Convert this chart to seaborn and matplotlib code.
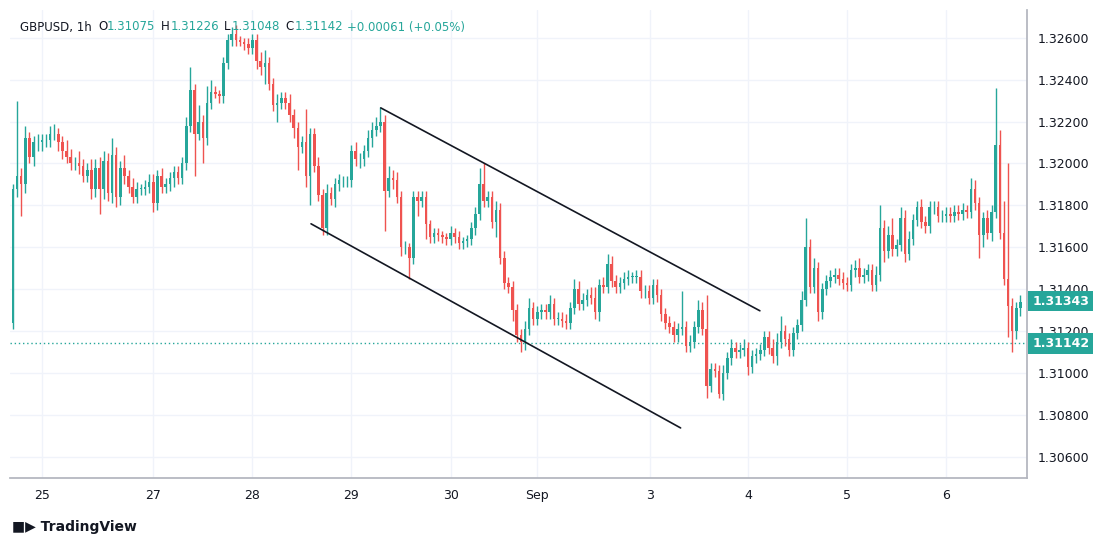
import numpy as np
import pandas as pd
import matplotlib
matplotlib.use("Agg")
import matplotlib.pyplot as plt
import seaborn as sns

BASE = 1.30
first_open = 124  # pips above 1.30000
closes = [188,194,190,212,203,210,210,211,211,214,
          214,210,206,203,200,200,199,194,197,188,
          198,188,201,186,204,184,198,194,189,184,
          188,188,189,191,181,194,189,190,193,196,
          193,200,218,235,214,220,212,229,234,233,
          232,248,259,262,259,258,257,255,259,249,
          246,248,238,228,229,231,229,223,217,208,
          210,194,214,199,185,169,186,183,190,192,
          192,192,206,202,202,206,212,216,218,220,
          187,193,192,184,160,160,155,184,182,184,
          171,165,167,166,165,164,167,165,162,163,
          164,169,176,190,182,184,172,178,155,143,
          141,130,118,115,121,131,126,129,130,129,
          133,126,126,125,124,131,140,133,135,137,
          136,129,142,141,152,144,141,143,145,146,
          146,146,139,139,136,142,137,128,124,122,
          118,121,122,113,115,122,130,121,94,102,
          101,90,100,107,112,110,111,112,103,108,
          109,111,117,112,108,115,120,116,111,119,
          123,135,160,141,150,129,140,144,146,147,
          145,143,142,149,150,146,147,149,142,147,
          169,158,166,159,161,174,157,164,173,179,
          172,170,179,179,175,175,176,175,177,176,
          178,177,188,181,166,174,167,177,209,167,
          145,132,120,131,134]
wick_up = [2,36,4,6,3,3,4,3,3,4, 5,3,3,5,4,3,6,3,3,5, 4,5,5,4,8,4,3,6,3,4,
           3,2,3,4,4,3,4,3,3,3, 3,3,4,11,3,8,3,8,6,3, 2,3,3,3,4,2,2,3,3,3,
           4,6,3,3,4,3,3,4,3,3, 3,16,3,3,4,3,4,3,3,3, 2,2,3,4,3,3,4,4,4,7,
           3,6,4,4,3,3,2,3,3,3, 3,2,2,2,2,2,3,2,3,2, 2,3,3,8,10,3,3,4,3,3,
           3,3,3,3,4,5,3,3,3,3, 4,3,3,3,3,3,5,4,3,3, 4,5,3,4,5,4,3,3,3,3,
           2,3,3,3,3,3,3,3,3,3, 3,3,17,3,3,3,5,4,16,3, 3,3,4,3,4,3,3,4,3,3,
           3,3,3,3,4,4,7,3,3,3, 3,4,14,4,5,3,3,3,3,3, 3,3,3,3,4,5,3,3,3,4,
           11,4,4,8,3,5,4,4,3,3, 4,3,3,3,3,3,3,3,3,3, 3,2,5,4,3,3,4,3,27,7,
           15,55,4,3,3]
wick_dn = [3,4,15,4,3,4,4,4,3,3, 3,4,4,3,3,3,4,3,3,5, 4,12,5,4,5,5,4,4,3,3,
           3,3,3,3,4,3,3,3,3,4, 3,3,3,3,20,3,12,3,3,2, 3,3,3,3,3,2,3,3,3,4,
           4,8,3,3,8,3,3,3,5,11, 3,5,14,3,3,3,3,3,4,3, 3,3,3,3,4,3,3,4,3,3,
           19,3,4,3,4,3,10,3,7,3, 7,3,3,3,3,3,3,3,3,3, 3,3,3,3,3,3,3,7,3,3,
           3,5,3,5,4,3,3,3,3,3, 3,3,3,3,3,3,3,3,3,3, 3,3,4,3,3,3,3,3,3,3,
           3,3,3,3,3,3,3,3,3,3, 3,3,3,3,3,3,3,3,6,3, 3,2,3,3,3,3,3,3,4,3,
           3,3,3,3,3,4,3,3,3,3, 3,3,3,3,3,4,3,3,3,3, 3,3,3,3,3,3,3,3,3,3,
           3,5,3,3,3,3,4,3,3,3, 3,3,3,3,3,3,3,3,3,3, 3,3,3,3,11,6,3,4,3,3,
           3,15,10,4,4]
tick_labels = ["25", "27", "28", "29", "30", "Sep", "3", "4", "5", "6"]
tick_pos = [7.0, 33.9, 57.9, 81.8, 106.1, 126.9, 154.2, 178.0, 201.9, 225.9]
price_ticks = [1.306, 1.308, 1.310, 1.312, 1.314, 1.316, 1.318, 1.320, 1.322, 1.324, 1.326]
last_price = 1.31343
header_close = 1.31142
upper_channel = ([89.1, 180.9], [1.32265, 1.31297])
lower_channel = ([72.2, 161.7], [1.31712, 1.30738])

n = len(closes)
opens = [first_open] + closes[:-1]
df = pd.DataFrame({
    "i": np.arange(n),
    "open": [BASE + v / 10000 for v in opens],
    "close": [BASE + v / 10000 for v in closes],
})
df["high"] = [BASE + (max(o, c) + u) / 10000 for o, c, u in zip(opens, closes, wick_up[:n])]
df["low"] = [BASE + (min(o, c) - d) / 10000 for o, c, d in zip(opens, closes, wick_dn[:n])]
GREEN, RED = "#26a69a", "#ef5350"
df["color"] = np.where(df["close"] >= df["open"], GREEN, RED)

sns.set_theme(style="white")
fig = plt.figure(figsize=(10.98, 5.46), dpi=100)
ax = fig.add_axes([0.009, 0.1245, 0.926, 0.8575])

for p in price_ticks:
    ax.axhline(p, color="#f0f3fa", lw=1, zorder=0)
for t in tick_pos:
    ax.axvline(t, color="#f0f3fa", lw=1, zorder=0)

ax.vlines(df["i"], df["low"], df["high"], colors=df["color"], lw=1, zorder=2)
body_b = np.minimum(df["open"], df["close"])
body_h = np.maximum(np.abs(df["close"] - df["open"]), 0.000012)
ax.bar(df["i"], body_h, bottom=body_b, width=0.62, color=df["color"], linewidth=0, zorder=3)

ax.plot(*upper_channel, color="#131722", lw=1.2, zorder=4)
ax.plot(*lower_channel, color="#131722", lw=1.2, zorder=4)
ax.axhline(header_close, color=GREEN, lw=1, ls=(0, (1, 2)), zorder=1)

ax.set_xlim(-0.73, 245.5)
ax.set_ylim(1.30499, 1.32733)
ax.yaxis.tick_right()
ax.set_yticks(price_ticks)
ax.set_yticklabels([f"{p:.5f}" for p in price_ticks], fontsize=9, color="#131722")
ax.set_xticks(tick_pos)
ax.set_xticklabels(tick_labels, fontsize=9, color="#131722")
ax.tick_params(axis="both", length=0, pad=8)
for s in ["top", "left"]:
    ax.spines[s].set_visible(False)
for s in ["right", "bottom"]:
    ax.spines[s].set_color("#b2b5be")

for val, yv in [(last_price, last_price), (header_close, header_close)]:
    ax.annotate(f"{val:.5f}", xy=(1.0, yv), xycoords=("axes fraction", "data"),
                xytext=(4, 0), textcoords="offset points", va="center", ha="left",
                fontsize=9, fontweight="bold", color="white", zorder=10,
                bbox=dict(boxstyle="square,pad=0.3", fc=GREEN, ec="none"))

W, H = 1098, 546
def ftxt(x, y, s, c="#131722", **kw):
    fig.text(x / W, 1 - y / H, s, color=c, fontsize=8.5, va="center", ha="left", **kw)
ftxt(20, 27, "GBPUSD, 1h")
ftxt(98, 27, "O"); ftxt(107, 27, "1.31075", GREEN)
ftxt(161, 27, "H"); ftxt(171, 27, "1.31226", GREEN)
ftxt(224, 27, "L"); ftxt(232, 27, "1.31048", GREEN)
ftxt(285, 27, "C"); ftxt(295, 27, "1.31142", GREEN)
ftxt(347, 27, "+0.00061 (+0.05%)", GREEN)
fig.text(12 / W, 1 - 527 / H, "\u25A0\u25B6 TradingView", fontsize=10, color="#131722",
         va="center", ha="left", fontweight="bold")

fig.savefig("out.png", dpi=100, facecolor="white")
